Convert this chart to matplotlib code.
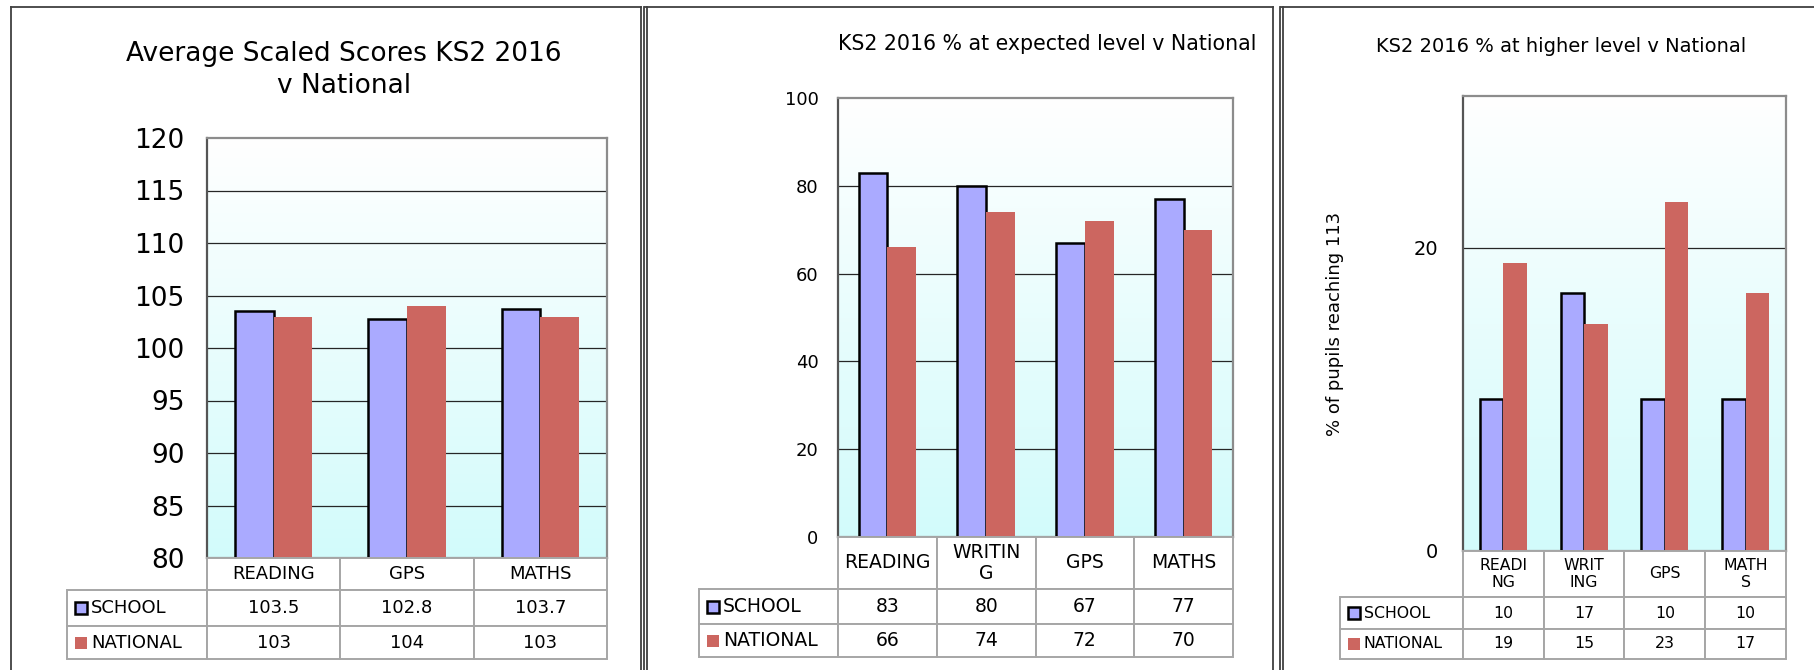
"""
KS2 2016 results: school v national, three panels with data tables.
"""
import numpy as np
import matplotlib
matplotlib.use('Agg')
import matplotlib.pyplot as plt
from matplotlib.patches import Rectangle
from matplotlib.lines import Line2D
from matplotlib.colors import LinearSegmentedColormap

W, H = 1815, 670

# average scaled scores
cats_avg = ['READING', 'GPS', 'MATHS']
school_avg = [103.5, 102.8, 103.7]
national_avg = [103, 104, 103]

# % at expected level
cats_exp = ['READING', 'WRITIN\nG', 'GPS', 'MATHS']
school_exp = [83, 80, 67, 77]
national_exp = [66, 74, 72, 70]

# % at higher level
cats_high = ['READI\nNG', 'WRIT\nING', 'GPS', 'MATH\nS']
school_high = [10, 17, 10, 10]
national_high = [19, 15, 23, 17]

series_names = ['SCHOOL', 'NATIONAL']

SCHOOL_C = '#aaaaff'
NATIONAL_C = '#cc6660'
GRID_C = '#a6a6a6'
bg_cmap = LinearSegmentedColormap.from_list('bg', ['#d2fbfb', '#ffffff'])

plt.rcParams['font.family'] = ['DejaVu Sans']

fig = plt.figure(figsize=(W / 100, H / 100), dpi=100)
fig.patch.set_facecolor('white')


def fig_line(x0, y0, x1, y1, lw=1.3, color='#404040'):
    fig.add_artist(Line2D([x0 / W, x1 / W], [1 - y0 / H, 1 - y1 / H],
                          color=color, lw=lw, transform=fig.transFigure))


def panel(box, cats, school, national, ylim, yticks, tick_fs, tick_pad,
          rows_px, leg_left, tab_fs):
    l, t, r, b = box
    ax = fig.add_axes([l / W, 1 - b / H, (r - l) / W, (b - t) / H])
    n = len(cats)
    x = np.arange(n)
    w = 0.29

    # gradient background
    ax.imshow(np.linspace(0, 1, 256).reshape(-1, 1), cmap=bg_cmap, origin='lower',
              extent=[-0.5, n - 0.5, ylim[0], ylim[1]], aspect='auto', zorder=0)
    for v in yticks:
        if ylim[0] < v < ylim[1]:
            ax.axhline(v, color='#262626', lw=0.9, zorder=1)

    ax.bar(x - w / 2, school, w, color=SCHOOL_C, edgecolor='black', linewidth=1.8, zorder=3)
    ax.bar(x + w / 2, national, w, color=NATIONAL_C, zorder=3)

    ax.set_xlim(-0.5, n - 0.5)
    ax.set_ylim(*ylim)
    ax.set_yticks(yticks)
    ax.set_xticks([])
    ax.tick_params(axis='y', length=0, labelsize=tick_fs, pad=tick_pad)
    for s in ax.spines.values():
        s.set_color('#8c8c8c')
        s.set_linewidth(1.6)
    ax.spines['left'].set_color('#555555')

    # data table under the axes (pixel positions -> axes fraction)
    ax_x = lambda px: (px - l) / (r - l)
    ax_y = lambda py: (b - py) / (b - t)
    edges = [l + (r - l) * i / n for i in range(n + 1)]

    def cell(x0, y0, x1, y1):
        ax.add_patch(Rectangle((ax_x(x0), ax_y(y1)), ax_x(x1) - ax_x(x0), ax_y(y0) - ax_y(y1),
                               transform=ax.transAxes, facecolor='white', edgecolor=GRID_C,
                               lw=1.4, clip_on=False, zorder=5))

    hdr_bottom = rows_px[0]
    for i, c in enumerate(cats):
        cell(edges[i], b, edges[i + 1], hdr_bottom)
        ax.text(ax_x((edges[i] + edges[i + 1]) / 2), ax_y((b + hdr_bottom) / 2), c,
                transform=ax.transAxes, ha='center', va='center', fontsize=tab_fs,
                linespacing=1.1, zorder=6)

    row_vals = [school, national]
    for k in range(2):
        y0, y1 = rows_px[k], rows_px[k + 1]
        ym = (y0 + y1) / 2
        cell(leg_left, y0, l, y1)
        msz = 12
        ax.add_patch(Rectangle((ax_x(leg_left + 8), ax_y(ym + msz / 2)),
                               msz / (r - l), msz / (b - t), transform=ax.transAxes,
                               facecolor=SCHOOL_C if k == 0 else NATIONAL_C,
                               edgecolor='black' if k == 0 else 'none', lw=1.8,
                               clip_on=False, zorder=6))
        ax.text(ax_x(leg_left + 8 + msz + 4), ax_y(ym), series_names[k],
                transform=ax.transAxes, ha='left', va='center', fontsize=tab_fs, zorder=6)
        for i, v in enumerate(row_vals[k]):
            cell(edges[i], y0, edges[i + 1], y1)
            ax.text(ax_x((edges[i] + edges[i + 1]) / 2), ax_y(ym), f'{v:g}',
                    transform=ax.transAxes, ha='center', va='center', fontsize=tab_fs, zorder=6)
    return ax


# panel frames
fig_line(11, 7, 641, 7)
fig_line(11, 7, 11, 670)
fig_line(641, 7, 641, 670)
fig_line(645, 7, 1273, 7)
fig_line(644, 7, 644, 670)
fig_line(647, 7, 647, 670)
fig_line(1273, 7, 1273, 670)
fig_line(1281, 7, 1815, 7)
fig_line(1280, 7, 1280, 670)
fig_line(1283, 7, 1283, 670)

# panel 1
panel((207, 138, 607, 558), cats_avg, school_avg, national_avg,
      (80, 120), list(range(80, 121, 5)), 19, 16,
      [590, 626, 659], 67, 13)
fig.text(344 / W, 1 - 70 / H, 'Average Scaled Scores KS2 2016\nv National',
         ha='center', va='center', fontsize=19, linespacing=1.3)

# panel 2
panel((838, 98, 1233, 537), cats_exp, school_exp, national_exp,
      (0, 100), list(range(0, 101, 20)), 13, 14,
      [589, 624, 657], 699, 13.5)
fig.text(1047 / W, 1 - 44 / H, 'KS2 2016 % at expected level v National',
         ha='center', va='center', fontsize=14.8)

# panel 3
ax3 = panel((1463, 96, 1786, 551), cats_high, school_high, national_high,
            (0, 30), [0, 20], 14, 18,
            [597, 629, 659], 1340, 11.3)
ax3.text((1335 - 1463) / 323, 0.5, '% of pupils reaching 113', transform=ax3.transAxes,
         rotation=90, ha='center', va='center', fontsize=13)
fig.text(1561 / W, 1 - 47 / H, 'KS2 2016 % at higher level v National',
         ha='center', va='center', fontsize=14)

fig.savefig('out.png', dpi=100)
